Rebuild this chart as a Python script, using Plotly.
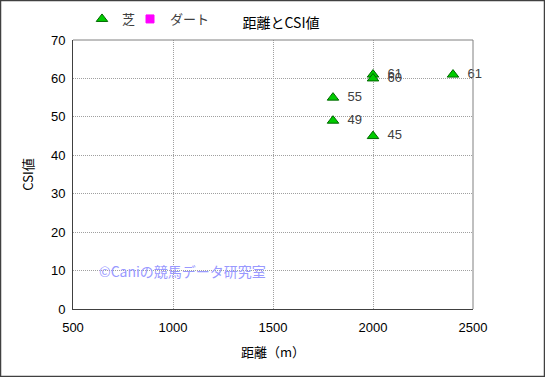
import plotly.graph_objects as go

turf_dist = [1800, 1800, 2000, 2000, 2000, 2400]
turf_csi = [55, 49, 61, 60, 45, 61]
turf_labels = ["55", "49", "61", "60", "45", "61"]
dirt_dist = [None]
dirt_csi = [None]

W, H = 545, 377
L, R, T, B = 73, 72, 40, 68
pw, ph = W - L - R, H - T - B
font = "Arial, Liberation Sans, Noto Sans CJK JP"
lg_font = dict(size=13, family="Noto Sans CJK JP", color="#404040")

fig = go.Figure()
fig.add_trace(go.Scatter(
    x=turf_dist, y=turf_csi, mode="markers+text", name="芝",
    text=["  " + t for t in turf_labels], textposition="middle right",
    textfont=dict(size=13, color="#404040", family=font),
    marker=dict(symbol="triangle-up", size=10, color="#00cc00",
                line=dict(color="#006600", width=1)),
    cliponaxis=False, legend="legend",
))
fig.add_trace(go.Scatter(
    x=dirt_dist, y=dirt_csi, mode="markers", name="ダート",
    marker=dict(symbol="square", size=8, color="#ff00ff",
                line=dict(color="#ff00ff", width=1)),
    legend="legend2",
))

fig.update_layout(
    width=W, height=H,
    margin=dict(l=L, r=R, t=T, b=B, autoexpand=False),
    paper_bgcolor="white", plot_bgcolor="white",
    font=dict(family=font, size=12, color="#000000"),
    title=dict(text="距離とCSI値", x=281 / W, xanchor="center",
               y=1 - 23 / H, yanchor="middle",
               font=dict(size=14, family="Noto Sans CJK JP", color="#000000")),
    legend=dict(orientation="h", x=(82 - L) / pw, xanchor="left",
                y=1 + (T - 19) / ph, yanchor="middle", font=lg_font,
                bgcolor="rgba(0,0,0,0)", itemwidth=30),
    legend2=dict(orientation="h", x=(130 - L) / pw, xanchor="left",
                 y=1 + (T - 19) / ph, yanchor="middle", font=lg_font,
                 bgcolor="rgba(0,0,0,0)", itemwidth=30),
    showlegend=True,
    xaxis=dict(range=[500, 2500], dtick=500, showgrid=True,
               gridcolor="#a0a0a0", griddash="1px,1px", gridwidth=1,
               showline=True, linecolor="#404040", linewidth=1,
               ticks="", zeroline=False, ticklabelstandoff=6,
               tickfont=dict(size=13, family=font, color="#000000"),
               title=dict(text="距離（m）", standoff=14,
                          font=dict(size=13, family="Noto Sans CJK JP"))),
    yaxis=dict(range=[0, 70], dtick=10, showgrid=True,
               gridcolor="#a0a0a0", griddash="1px,1px", gridwidth=1,
               showline=True, linecolor="#404040", linewidth=1,
               ticks="", zeroline=False, ticklabelstandoff=4,
               tickfont=dict(size=13, family=font, color="#000000"),
               title=dict(text="CSI値", standoff=14,
                          font=dict(size=13, family="Noto Sans CJK JP"))),
)

# top/right plot border (lighter)
fig.add_shape(type="line", xref="paper", yref="paper", x0=0, x1=1, y0=1, y1=1,
              line=dict(color="#808080", width=1))
fig.add_shape(type="line", xref="paper", yref="paper", x0=1, x1=1, y0=0, y1=1,
              line=dict(color="#808080", width=1))
# outer frame
fig.add_shape(type="rect", xref="paper", yref="paper",
              x0=-(L - 0.5) / pw, x1=(W - 0.5 - L) / pw,
              y0=-(B - 0.5) / ph, y1=1 + (T - 0.5) / ph,
              line=dict(color="#404040", width=1.5))

fig.add_annotation(text="©Caniの競馬データ研究室", xref="paper", yref="paper",
                   x=(97 - L) / pw, y=(309 - 271) / ph, xanchor="left", yanchor="middle",
                   showarrow=False,
                   font=dict(size=14, family="Noto Sans CJK JP", color="#9999ff"))

fig.write_html("out.html", config={"displayModeBar": False},
               post_script="document.body.style.margin='0';document.body.style.overflow='hidden';")
